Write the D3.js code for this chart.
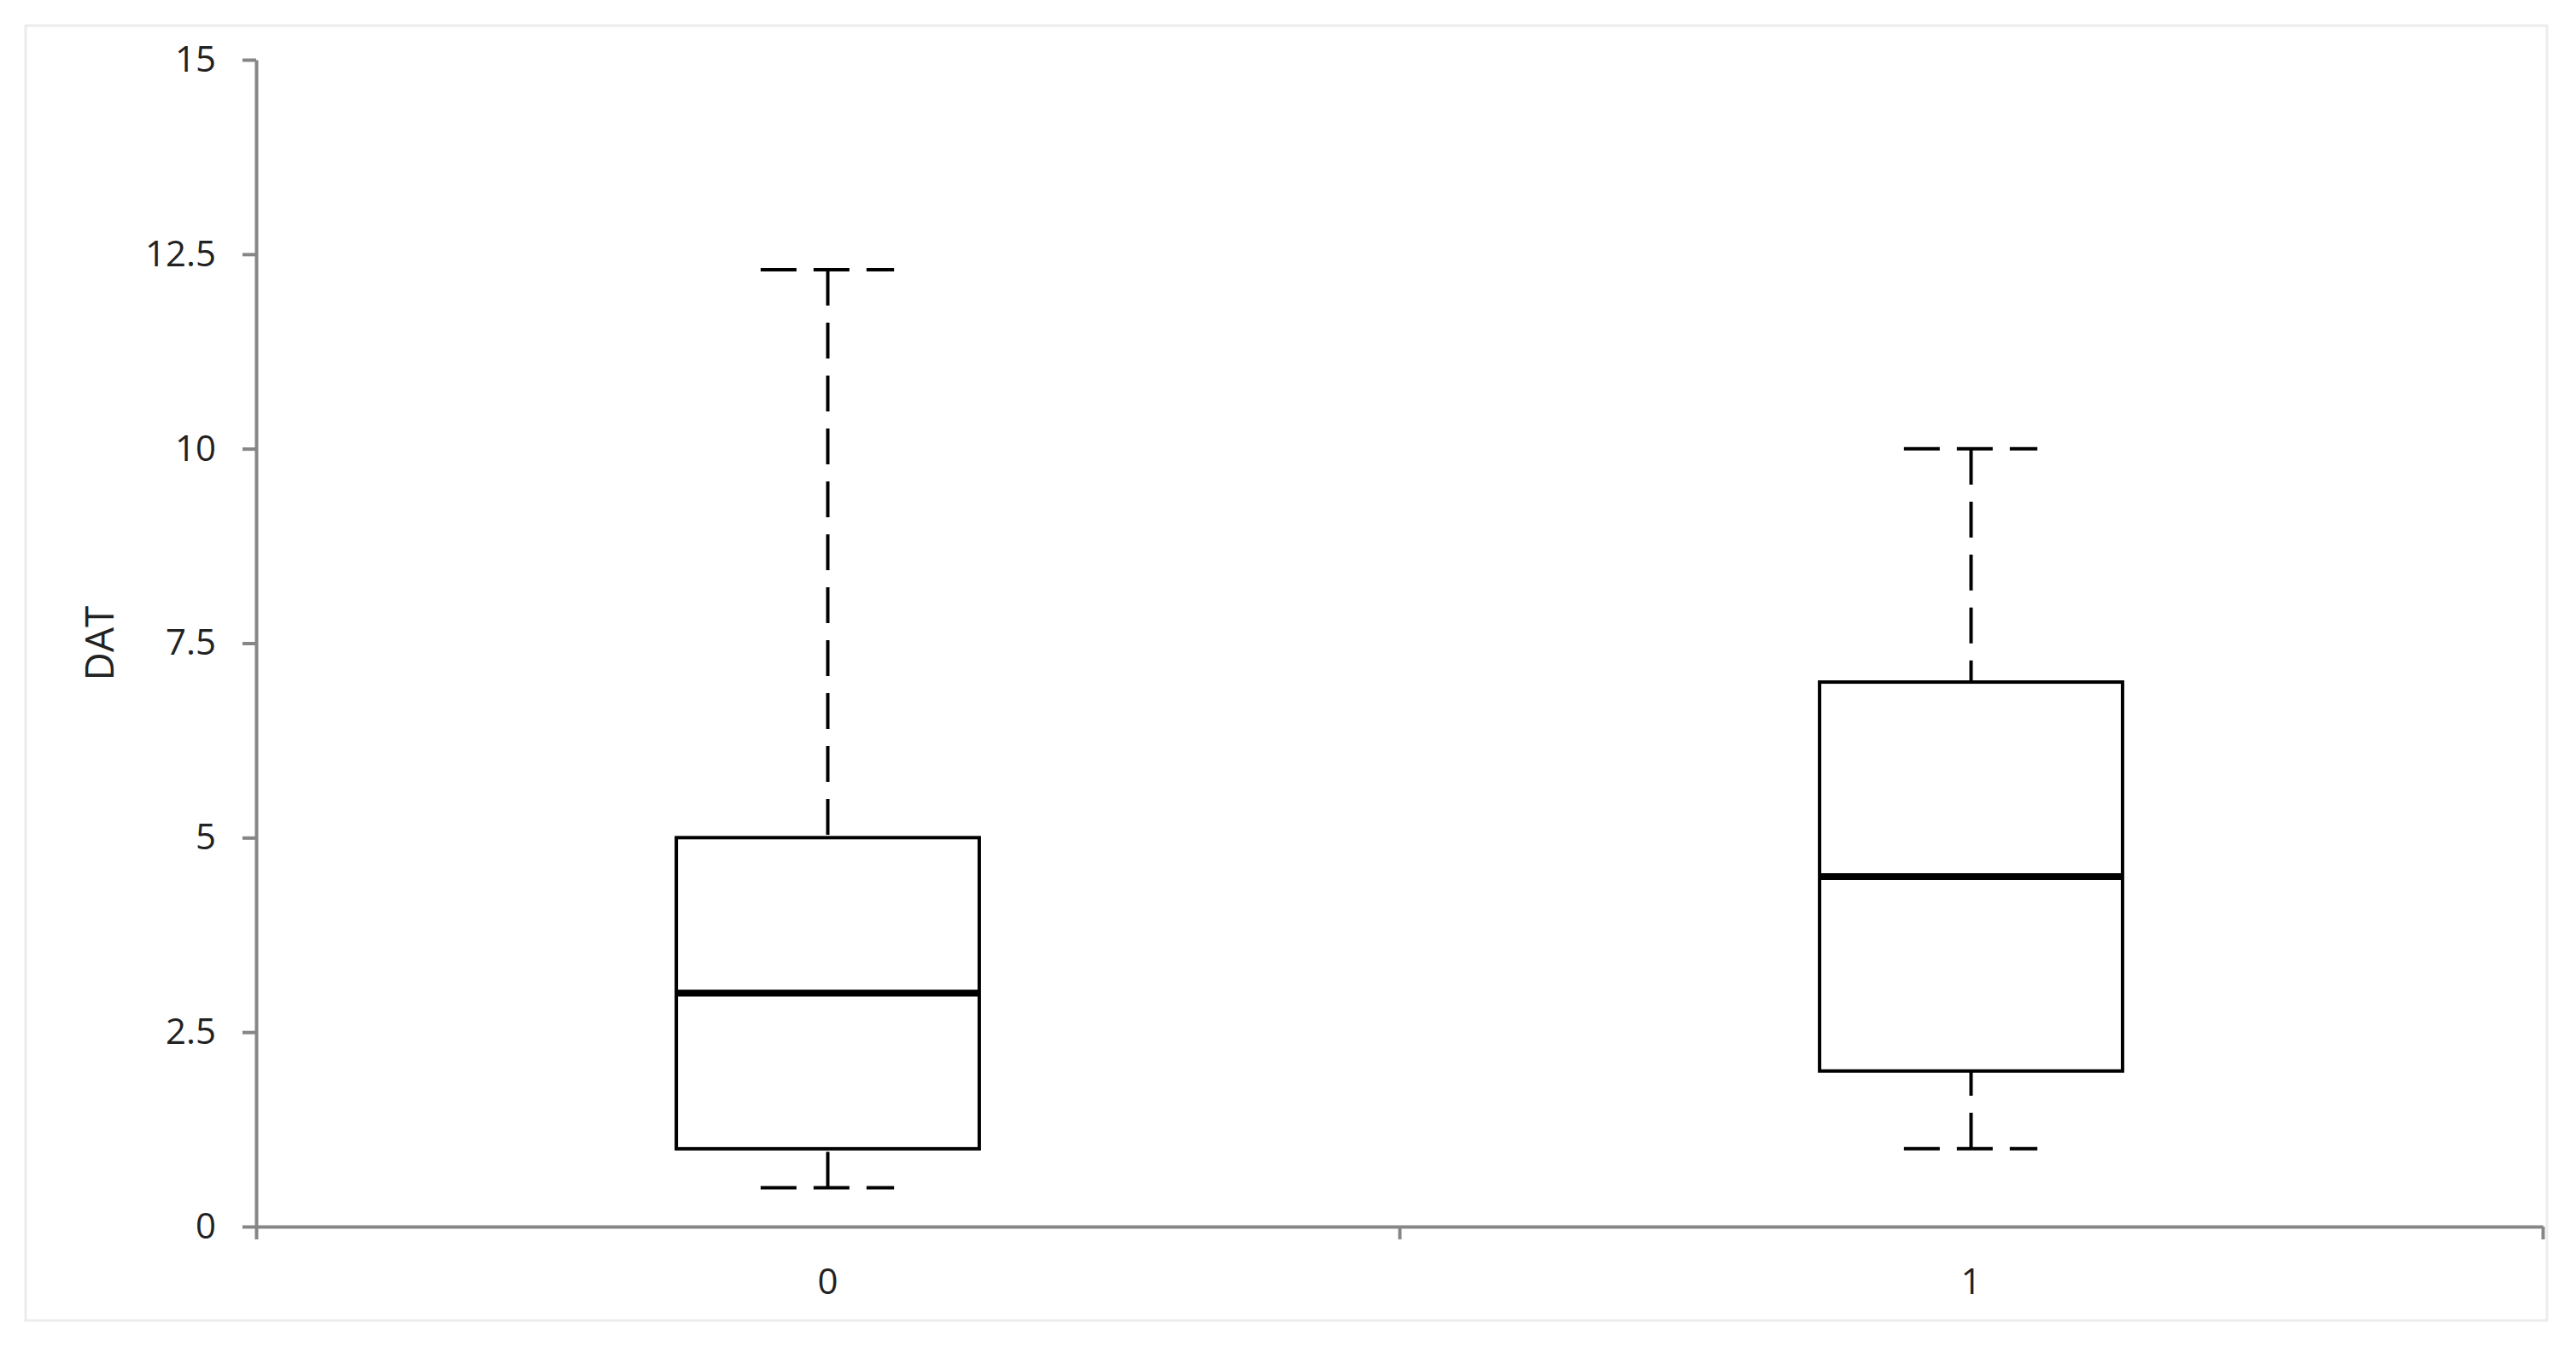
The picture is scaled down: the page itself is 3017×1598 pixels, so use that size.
<!DOCTYPE html>
<html>
<head>
<meta charset="utf-8">
<script src="https://cdn.jsdelivr.net/npm/d3@7"></script>
<style>
  body { margin: 0; background: #fff; }
  svg { display: block; }
</style>
</head>
<body>
<div id="chart"></div>
<script>
const categories = ["0", "1"];
const whiskerLow = [0.5, 1];
const q1 = [1, 2];
const median = [3, 4.5];
const q3 = [5, 7];
const whiskerHigh = [12.3, 10];
const yTicks = [0, 2.5, 5, 7.5, 10, 12.5, 15];
const yLabel = "DAT";

const W = 3017, H = 1598;
const margin = { top: 70, right: 39, bottom: 161, left: 300 };
const width = W - margin.left - margin.right;
const height = H - margin.top - margin.bottom;

const root = d3.select("#chart").append("svg")
    .attr("width", W)
    .attr("height", H);

// light outer frame
root.append("rect")
    .attr("x", 30).attr("y", 30)
    .attr("width", 2953).attr("height", 1517)
    .attr("fill", "#fff")
    .attr("stroke", "#ececec")
    .attr("stroke-width", 3);

const svg = root.append("g")
    .attr("transform", `translate(${margin.left},${margin.top})`);

const x = d3.scaleBand().domain(categories).range([0, width]);
const y = d3.scaleLinear().domain([0, 15]).range([height, 0]);

const boxW = x.bandwidth() * 0.265;
const capW = x.bandwidth() * 0.116;
const font = "'Open Sans', sans-serif";

// y axis
const yAxis = svg.append("g")
    .call(d3.axisLeft(y)
        .tickValues(yTicks)
        .tickFormat(d => String(d))
        .tickSize(16)
        .tickSizeOuter(0)
        .tickPadding(31));

// x axis: tick marks between categories
const xEdges = d3.scaleLinear().domain([0, categories.length]).range([0, width]);
const xAxis = svg.append("g")
    .attr("transform", `translate(0,${height})`)
    .call(d3.axisBottom(xEdges).tickValues(d3.range(categories.length + 1)).tickFormat("").tickSize(15).tickSizeOuter(0));

// x labels
const xLabels = svg.append("g")
    .attr("transform", `translate(0,${height})`)
    .call(d3.axisBottom(x).tickSize(0).tickPadding(49));
xLabels.select(".domain").remove();

[yAxis, xAxis].forEach(g => {
    g.selectAll(".domain, .tick line").attr("stroke", "#868686").attr("stroke-width", 4);
});
[yAxis, xLabels].forEach(g => {
    g.selectAll("text")
        .style("font-family", font)
        .style("font-size", "42px")
        .attr("fill", "#222");
});

// y axis title
svg.append("text")
    .attr("transform", "rotate(-90)")
    .attr("x", -height / 2)
    .attr("y", 117 - margin.left)
    .attr("dy", "0.35em")
    .style("text-anchor", "middle")
    .style("font-family", font)
    .style("font-size", "46px")
    .attr("fill", "#222")
    .text(yLabel);

const boxes = svg.selectAll(".box")
    .data(categories.map((c, i) => ({
        c, low: whiskerLow[i], q1: q1[i], med: median[i], q3: q3[i], high: whiskerHigh[i]
    })))
    .join("g")
    .attr("class", "box")
    .attr("transform", d => `translate(${x(d.c) + x.bandwidth() / 2},0)`);

const dashStyle = g => g
    .attr("stroke", "#000")
    .attr("stroke-width", 4)
    .attr("stroke-dasharray", "42,20")
    .attr("fill", "none");

// whiskers, drawn from the end toward the box
boxes.append("line")
    .attr("x1", 0).attr("x2", 0)
    .attr("y1", d => y(d.high)).attr("y2", d => y(d.q3))
    .call(dashStyle);
boxes.append("line")
    .attr("x1", 0).attr("x2", 0)
    .attr("y1", d => y(d.low)).attr("y2", d => y(d.q1))
    .call(dashStyle);

// caps
boxes.append("line")
    .attr("x1", -capW / 2 - 1).attr("x2", capW / 2)
    .attr("y1", d => y(d.high)).attr("y2", d => y(d.high))
    .call(dashStyle);
boxes.append("line")
    .attr("x1", -capW / 2 - 1).attr("x2", capW / 2)
    .attr("y1", d => y(d.low)).attr("y2", d => y(d.low))
    .call(dashStyle);

// box
boxes.append("rect")
    .attr("x", -boxW / 2)
    .attr("width", boxW)
    .attr("y", d => y(d.q3))
    .attr("height", d => y(d.q1) - y(d.q3))
    .attr("fill", "#fff")
    .attr("stroke", "#000")
    .attr("stroke-width", 4);

// median
boxes.append("line")
    .attr("x1", -boxW / 2).attr("x2", boxW / 2)
    .attr("y1", d => y(d.med)).attr("y2", d => y(d.med))
    .attr("stroke", "#000")
    .attr("stroke-width", 8);
</script>
</body>
</html>
